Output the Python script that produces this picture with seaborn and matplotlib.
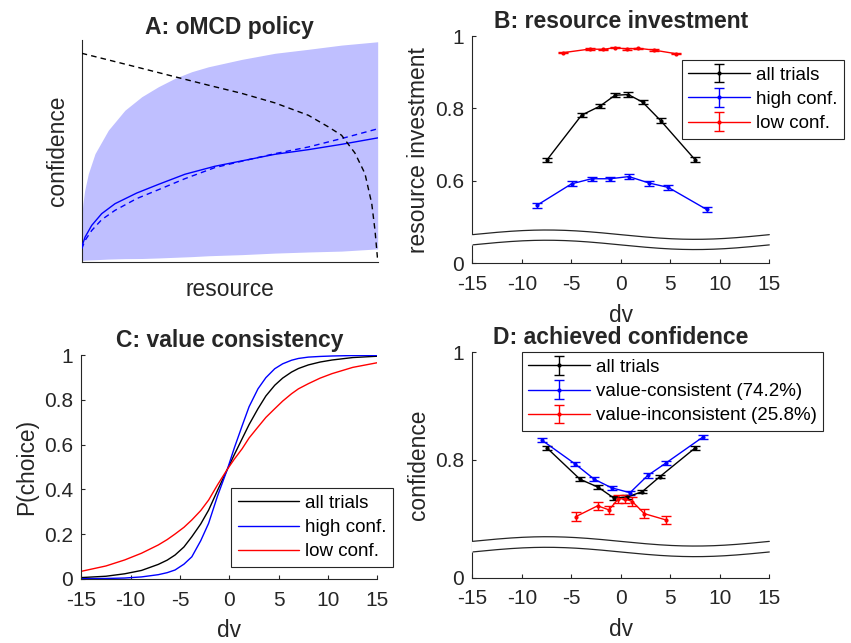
import numpy as np
import pandas as pd
import matplotlib
matplotlib.use("Agg")
import matplotlib.pyplot as plt
import seaborn as sns

# ---------------- data ----------------
# Panel A: oMCD policy (resource in [0,1], confidence in [0,1], arbitrary units)
a_band_x = [0, 0.004, 0.01, 0.0225, 0.045, 0.09, 0.146, 0.203, 0.259, 0.315, 0.372, 0.428, 0.541, 0.653, 0.766, 0.878, 1.0]
a_band_hi = [0.20, 0.26, 0.32, 0.397, 0.487, 0.593, 0.683, 0.744, 0.789, 0.827, 0.857, 0.879, 0.9125, 0.94, 0.958, 0.977, 0.992]
a_band_lo = [0.005, 0.005, 0.006, 0.007, 0.008, 0.011, 0.013, 0.0136, 0.016, 0.019, 0.022, 0.026, 0.031, 0.038, 0.043, 0.047, 0.057]
a_mean_x = [0, 0.0113, 0.0338, 0.0676, 0.1126, 0.1858, 0.259, 0.349, 0.45, 0.54, 0.653, 0.766, 0.878, 1.0]
a_mean_solid = [0.065, 0.11, 0.163, 0.216, 0.261, 0.309, 0.348, 0.394, 0.43, 0.454, 0.484, 0.505, 0.529, 0.558]
a_mean_dashed = [0.057, 0.095, 0.14, 0.189, 0.231, 0.284, 0.324, 0.374, 0.424, 0.4525, 0.487, 0.517, 0.555, 0.599]
a_bound_x = [0, 0.09, 0.203, 0.315, 0.428, 0.541, 0.653, 0.766, 0.833, 0.878, 0.923, 0.957, 0.98, 0.991, 1.0]
a_bound_y = [0.94, 0.91, 0.872, 0.834, 0.796, 0.759, 0.716, 0.66, 0.608, 0.57, 0.49, 0.397, 0.261, 0.14, 0.005]

# Panel B: resource investment
b_all_dv = [-7.49, -3.96, -2.1, -0.59, 0.76, 2.2, 4.02, 7.49]
b_all_y = [0.656, 0.781, 0.806, 0.836, 0.838, 0.817, 0.766, 0.658]
b_all_err = [0.006, 0.006, 0.006, 0.005, 0.006, 0.006, 0.006, 0.006]
b_high_dv = [-8.5, -4.97, -2.95, -1.09, 0.82, 2.88, 4.8, 8.67]
b_high_y = [0.531, 0.591, 0.605, 0.605, 0.611, 0.593, 0.581, 0.520]
b_high_err = [0.007, 0.007, 0.006, 0.006, 0.007, 0.007, 0.007, 0.007]
b_low_dv = [-5.8, -3.11, -1.77, -0.59, 0.59, 1.77, 3.35, 5.58]
b_low_y = [0.954, 0.964, 0.963, 0.968, 0.964, 0.966, 0.961, 0.951]
b_low_err = [0.002, 0.002, 0.002, 0.002, 0.002, 0.002, 0.002, 0.002]
b_labels = ["all trials", "high conf.", "low conf."]

# Panel C: value consistency
c_dv = [-15, -12.5, -10.6, -8.9, -7.2, -6.3, -5.5, -4.6, -3.8, -2.9, -2.1, -1.2, -0.2,
        0.5, 1.3, 2.0, 2.9, 3.7, 4.6, 5.4, 6.3, 7.0, 8.0, 9.2, 10.4, 12.5, 15]
c_all = [0.005, 0.011, 0.022, 0.037, 0.064, 0.083, 0.106, 0.142, 0.188, 0.245, 0.307, 0.395, 0.49,
         0.555, 0.627, 0.69, 0.761, 0.818, 0.866, 0.898, 0.925, 0.941, 0.957, 0.970, 0.979, 0.99, 0.996]
c_high = [0.0, 0.001, 0.003, 0.008, 0.018, 0.027, 0.039, 0.065, 0.098, 0.17, 0.248, 0.37, 0.49,
          0.585, 0.685, 0.77, 0.85, 0.90, 0.94, 0.962, 0.978, 0.986, 0.992, 0.995, 0.997, 0.999, 1.0]
c_low = [0.033, 0.057, 0.084, 0.114, 0.151, 0.175, 0.2, 0.23, 0.263, 0.305, 0.352, 0.42, 0.49,
         0.535, 0.582, 0.63, 0.679, 0.722, 0.761, 0.795, 0.828, 0.85, 0.873, 0.898, 0.918, 0.946, 0.967]
c_labels = ["all trials", "high conf.", "low conf."]

# Panel D: achieved confidence
d_all_dv = [-7.45, -4.12, -2.27, -0.7, 0.66, 2.17, 3.96, 7.5]
d_all_y = [0.822, 0.764, 0.749, 0.729, 0.731, 0.741, 0.769, 0.822]
d_all_err = [0.0035] * 8
d_cons_dv = [-8.0, -4.63, -2.68, -0.92, 0.93, 2.72, 4.53, 8.26]
d_cons_y = [0.837, 0.7926, 0.764, 0.748, 0.739, 0.771, 0.7938, 0.842]
d_cons_err = [0.004] * 8
d_inc_dv = [-4.52, -2.34, -1.19, -0.25, 0.42, 1.16, 2.38, 4.53]
d_inc_y = [0.6947, 0.7146, 0.707, 0.7276, 0.7276, 0.7226, 0.700, 0.6885]
d_inc_err = [0.008] * 8
d_labels = ["all trials", "value-consistent (74.2%)", "value-inconsistent (25.8%)"]

xticks_dv = [-15, -10, -5, 0, 5, 10, 15]

# ---------------- style ----------------
sns.set_theme(style="white")
plt.rcParams["font.family"] = ["Liberation Sans", "DejaVu Sans"]
plt.rcParams["axes.unicode_minus"] = False

AX_COL = "#262626"
TICK_FS = 15
LAB_FS = 16.4
TIT_FS = 16.5
LEG_FS = 13.5

fig = plt.figure(figsize=(8.51, 6.43), dpi=100)
axA = fig.add_axes([0.096, 0.5933, 0.3478, 0.3445])
axB = fig.add_axes([0.555, 0.5905, 0.349, 0.3535])
axC = fig.add_axes([0.0955, 0.1000, 0.348, 0.3474])
axD = fig.add_axes([0.555, 0.1016, 0.349, 0.3505])


def style_axes(ax):
    for s in ["top", "right"]:
        ax.spines[s].set_visible(False)
    for s in ["left", "bottom"]:
        ax.spines[s].set_color(AX_COL)
        ax.spines[s].set_linewidth(0.8)
    ax.tick_params(axis="both", direction="in", length=3, width=0.8,
                   colors=AX_COL, labelsize=TICK_FS, bottom=True, left=True)
    ax.tick_params(axis="x", pad=8.5)
    ax.tick_params(axis="y", pad=5.8)


def add_break(ax, c_up, c_lo, amp):
    t = np.linspace(-0.004, 1.0, 300)
    w = np.sin(2 * np.pi * np.clip(t, 0, 1))
    up = c_up + amp * w
    lo = c_lo + amp * w
    ax.fill_between(t, lo, up, transform=ax.transAxes, color="white",
                    zorder=4, clip_on=False, linewidth=0)
    ax.plot(t[t >= 0], up[t >= 0], transform=ax.transAxes, color=AX_COL, lw=0.9, zorder=5, clip_on=False)
    ax.plot(t[t >= 0], lo[t >= 0], transform=ax.transAxes, color=AX_COL, lw=0.9, zorder=5, clip_on=False)


def make_legend(ax, handles, labels, x, y):
    leg = ax.legend(handles, labels, loc="upper left", bbox_to_anchor=(x, y),
                    bbox_transform=fig.transFigure, borderaxespad=0,
                    frameon=True, fancybox=False, framealpha=1,
                    edgecolor=AX_COL, fontsize=LEG_FS, handlelength=3.3,
                    handletextpad=0.3, borderpad=0.35, labelspacing=0.38)
    leg.get_frame().set_linewidth(0.8)
    for tx in leg.get_texts():
        tx.set_color("black")
    return leg


# ---------------- Panel A ----------------
style_axes(axA)
axA.fill_between(a_band_x, a_band_lo, a_band_hi, color="#BFBFFF", linewidth=0, zorder=1)
sns.lineplot(x=a_mean_x, y=a_mean_solid, ax=axA, color="#0000FF", lw=1.0, zorder=3)
sns.lineplot(x=a_mean_x, y=a_mean_dashed, ax=axA, color="#0000FF", lw=1.0,
             linestyle=(0, (4, 3)), zorder=3)
sns.lineplot(x=a_bound_x, y=a_bound_y, ax=axA, color="black", lw=1.0,
             linestyle=(0, (4, 3)), zorder=3, sort=False)
axA.set_xlim(0, 1)
axA.set_ylim(0, 1)
axA.set_xticks([])
axA.set_yticks([])
axA.set_xlabel("resource", fontsize=LAB_FS, labelpad=12)
axA.set_ylabel("confidence", fontsize=LAB_FS, labelpad=9)
axA.set_title("A: oMCD policy", fontsize=TIT_FS, fontweight="bold", pad=4)


# ---------------- Panel B ----------------
def fwd_b(y):
    y = np.asarray(y, dtype=float)
    return np.where(y >= 0.45, y, 0.371 + y * (0.079 / 0.45))


def inv_b(d):
    d = np.asarray(d, dtype=float)
    return np.where(d >= 0.45, d, (d - 0.371) * (0.45 / 0.079))


style_axes(axB)
axB.set_yscale("function", functions=(fwd_b, inv_b))
ekw = dict(fmt=".-", lw=1.0, markersize=4, capsize=3.6, elinewidth=1.0, capthick=1.0)
hB = []
for dv, y, e, col in [(b_all_dv, b_all_y, b_all_err, "black"),
                      (b_high_dv, b_high_y, b_high_err, "#0000FF"),
                      (b_low_dv, b_low_y, b_low_err, "#FF0000")]:
    hB.append(axB.errorbar(dv, y, yerr=e, color=col, **ekw))
axB.set_xlim(-15, 15)
axB.set_ylim(0, 1)
axB.set_xticks(xticks_dv)
axB.set_xticklabels([str(v) for v in xticks_dv])
axB.set_yticks([0, 0.6, 0.8, 1])
axB.set_yticklabels(["0", "0.6", "0.8", "1"])
axB.minorticks_off()
axB.set_xlabel("dv", fontsize=LAB_FS, labelpad=7)
axB.set_ylabel("resource investment", fontsize=LAB_FS, labelpad=4)
axB.set_title("B: resource investment", fontsize=TIT_FS, fontweight="bold")
add_break(axB, 0.126, 0.081, 0.0205)
make_legend(axB, hB, b_labels, 0.801, 0.9067)

# ---------------- Panel C ----------------
style_axes(axC)
dfC = pd.DataFrame({
    "dv": c_dv * 3,
    "P": c_all + c_high + c_low,
    "group": [c_labels[0]] * len(c_dv) + [c_labels[1]] * len(c_dv) + [c_labels[2]] * len(c_dv),
})
sns.lineplot(data=dfC, x="dv", y="P", hue="group", hue_order=c_labels,
             palette=["black", "#0000FF", "#FF0000"], estimator=None, lw=1.0, ax=axC)
oldleg = axC.get_legend()
hC = list(oldleg.legend_handles)
lC = [t.get_text() for t in oldleg.get_texts()]
oldleg.remove()
make_legend(axC, hC, lC, 0.2714, 0.2406)
axC.set_xlim(-15, 15)
axC.set_ylim(0, 1)
axC.set_xticks(xticks_dv)
axC.set_xticklabels([str(v) for v in xticks_dv])
axC.set_yticks([0, 0.2, 0.4, 0.6, 0.8, 1])
axC.set_yticklabels(["0", "0.2", "0.4", "0.6", "0.8", "1"])
axC.set_xlabel("dv", fontsize=LAB_FS, labelpad=7)
axC.set_ylabel("P(choice)", fontsize=LAB_FS, labelpad=4)
axC.set_title("C: value consistency", fontsize=TIT_FS, fontweight="bold")


# ---------------- Panel D ----------------
def fwd_d(y):
    y = np.asarray(y, dtype=float)
    return np.where(y >= 0.66, y, 0.581 + y * (0.079 / 0.66))


def inv_d(d):
    d = np.asarray(d, dtype=float)
    return np.where(d >= 0.66, d, (d - 0.581) * (0.66 / 0.079))


style_axes(axD)
axD.set_yscale("function", functions=(fwd_d, inv_d))
hD = []
for dv, y, e, col in [(d_all_dv, d_all_y, d_all_err, "black"),
                      (d_cons_dv, d_cons_y, d_cons_err, "#0000FF"),
                      (d_inc_dv, d_inc_y, d_inc_err, "#FF0000")]:
    hD.append(axD.errorbar(dv, y, yerr=e, color=col, **ekw))
axD.set_xlim(-15, 15)
axD.set_ylim(0, 1)
axD.set_xticks(xticks_dv)
axD.set_xticklabels([str(v) for v in xticks_dv])
axD.set_yticks([0, 0.8, 1])
axD.set_yticklabels(["0", "0.8", "1"])
axD.minorticks_off()
axD.set_xlabel("dv", fontsize=LAB_FS, labelpad=7)
axD.set_ylabel("confidence", fontsize=LAB_FS, labelpad=4)
axD.set_title("D: achieved confidence", fontsize=TIT_FS, fontweight="bold")
add_break(axD, 0.161, 0.114, 0.0207)
make_legend(axD, hD, d_labels, 0.613, 0.4521)

fig.savefig("out.png", dpi=100)
